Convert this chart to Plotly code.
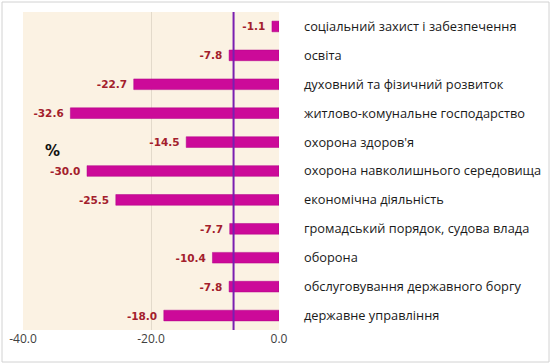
import plotly.graph_objects as go

categories = [
    "соціальний захист і забезпечення",
    "освіта",
    "духовний та фізичний розвиток",
    "житлово-комунальне господарство",
    "охорона здоров'я",
    "охорона навколишнього середовища",
    "економічна діяльність",
    "громадський порядок, судова влада",
    "оборона",
    "обслуговування державного боргу",
    "державне управління",
]
values = [-1.1, -7.8, -22.7, -32.6, -14.5, -30.0, -25.5, -7.7, -10.4, -7.8, -18.0]
average_line = -7.1
x_ticks = [-40, -20, 0]
x_tick_labels = ["-40.0", "-20.0", "0.0"]

W, H = 551, 364
L, R, T, B = 23, 272, 12, 34
pw, ph = W - L - R, H - T - B

fig = go.Figure()
fig.add_trace(go.Bar(
    x=values, y=categories, orientation="h",
    marker=dict(color="#CC0A99", line=dict(color="#B00088", width=0.5)),
    width=0.37,
    text=[f"{v:.1f}\u00a0" for v in values],
    textposition="outside",
    textfont=dict(family="DejaVu Sans", size=10.5, color="#A3202C", weight="bold"),
    cliponaxis=False,
    constraintext="none",
    hoverinfo="skip",
))

fig.add_shape(type="line", xref="x", yref="paper", x0=average_line, x1=average_line,
              y0=0, y1=1, line=dict(color="#7A1FB0", width=2))

# outer frame
fig.add_shape(type="rect", xref="paper", yref="paper",
              x0=(2 - L) / pw, x1=(549 - L) / pw,
              y0=(T + ph - 362) / ph, y1=(T + ph - 2) / ph,
              line=dict(color="#D2D2D2", width=1), layer="below")

fig.add_annotation(text="<b>%</b>", xref="paper", yref="paper",
                   x=(43 - L) / pw, y=(T + ph - 151) / ph, showarrow=False,
                   font=dict(family="DejaVu Sans", size=15, color="#111111"))

fig.update_layout(
    width=W, height=H,
    margin=dict(l=L, r=R, t=T, b=B, autoexpand=False),
    paper_bgcolor="white",
    plot_bgcolor="#FBF2E3",
    showlegend=False,
    xaxis=dict(range=[-40, 0], tickvals=x_ticks, ticktext=x_tick_labels,
               showgrid=True, gridcolor="#E3DACB", gridwidth=1, zeroline=False,
               showline=False, ticks="", automargin=False,
               tickfont=dict(family="Open Sans", size=12, color="#404040")),
    yaxis=dict(side="right", autorange="reversed", showgrid=False, zeroline=False,
               ticks="", ticklabelstandoff=24, automargin=False,
               tickfont=dict(family="Open Sans", size=12.8, color="#1A1A1A")),
)

fig.write_html("out.html", config={"displayModeBar": False},
               post_script="document.body.style.margin='0';")
